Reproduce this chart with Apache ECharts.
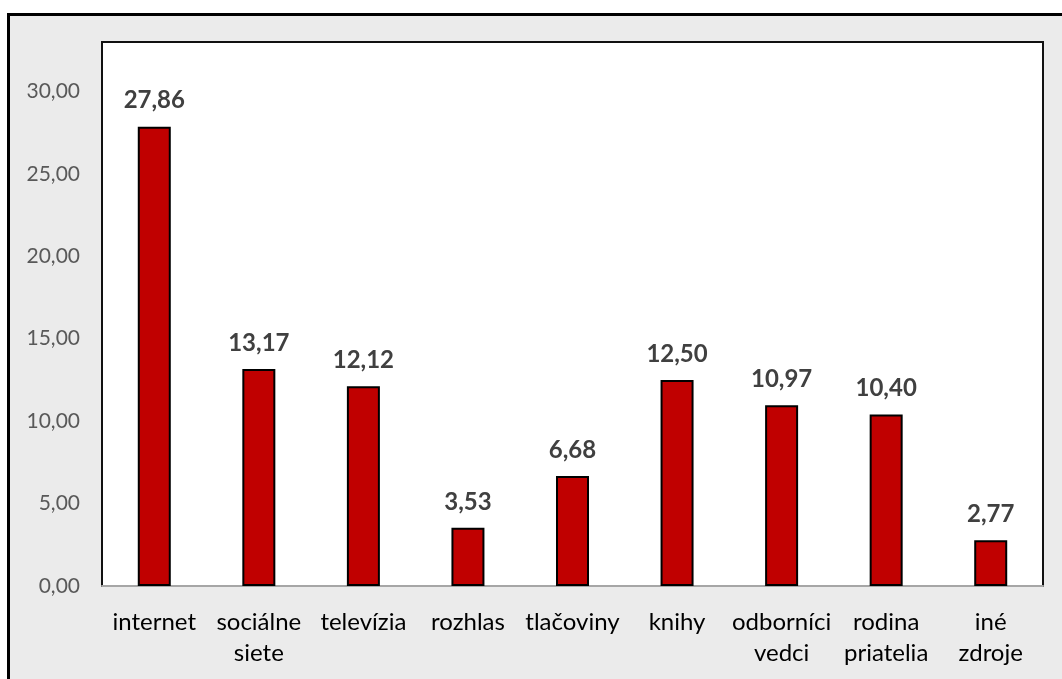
<!DOCTYPE html>
<html><head><meta charset="utf-8">
<script src="https://cdn.jsdelivr.net/npm/echarts@6/dist/echarts.min.js"></script>
<style>html,body{margin:0;padding:0;background:#fff}#c{width:1062px;height:679px}</style>
</head><body><div id="c"></div>
<script>
const categories = ['internet', 'sociálne\nsiete', 'televízia', 'rozhlas', 'tlačoviny', 'knihy', 'odborníci\nvedci', 'rodina\npriatelia', 'iné\nzdroje'];
const values = [27.86, 13.17, 12.12, 3.53, 6.68, 12.50, 10.97, 10.40, 2.77];
const yMin = 0, yMax = 33, yStep = 5;

const fmt = v => v.toFixed(2).replace('.', ',');
const FONT = 'Lato, "Open Sans", sans-serif';
const chart = echarts.init(document.getElementById('c'));
chart.setOption({
  animation: false,
  backgroundColor: '#fff',
  graphic: [{
    type: 'rect', z: -10, silent: true,
    shape: { x: 8.5, y: 14.5, width: 1200, height: 800 },
    style: { fill: '#ebebeb', stroke: '#000', lineWidth: 3 }
  }],
  grid: { left: 102, right: 19, top: 42, bottom: 93, show: true, backgroundColor: '#fff', borderColor: '#111', borderWidth: 2 },
  xAxis: {
    type: 'category', data: categories,
    axisLine: { show: true, lineStyle: { color: '#a6a6a6', width: 2 } },
    axisTick: { show: false },
    axisLabel: { color: '#000', fontSize: 24, fontFamily: FONT, margin: 21, lineHeight: 31, interval: 0 }
  },
  yAxis: {
    type: 'value', min: yMin, max: yMax, interval: yStep,
    axisLine: { show: false }, axisTick: { show: false }, splitLine: { show: false },
    axisLabel: { color: '#595959', fontSize: 21, fontFamily: FONT, margin: 22, showMaxLabel: false, formatter: v => fmt(v) }
  },
  series: [{
    type: 'bar', data: values, barWidth: 33,
    itemStyle: { color: '#c00000', borderColor: '#000', borderWidth: 2 },
    label: { show: true, position: 'top', distance: 14, color: '#404040', fontWeight: 'bold', fontSize: 24, fontFamily: FONT, formatter: p => fmt(p.value) }
  }]
});
</script></body></html>
